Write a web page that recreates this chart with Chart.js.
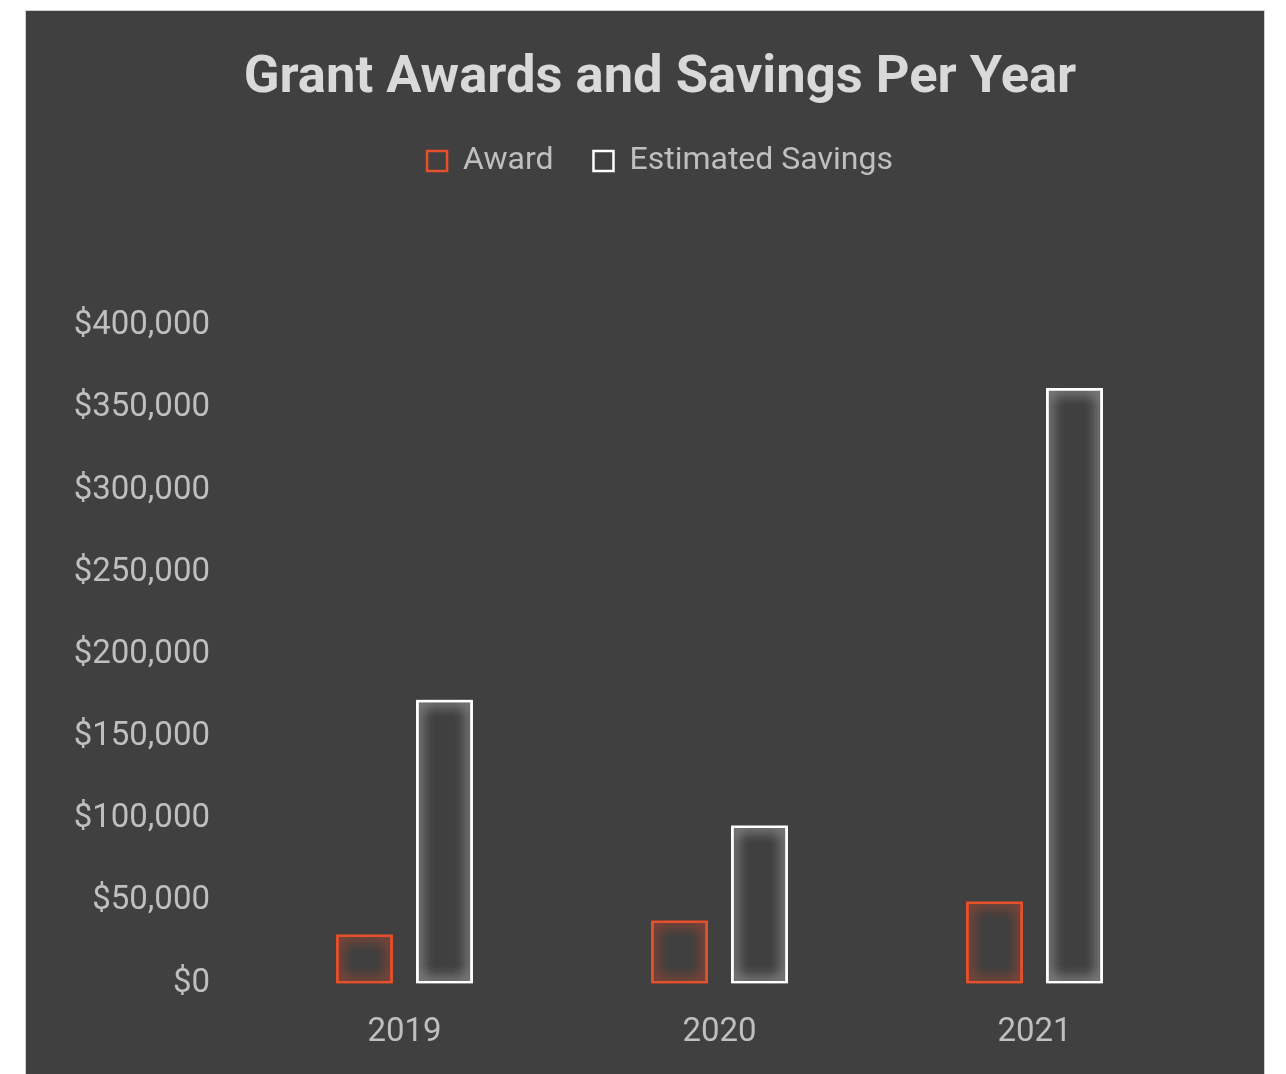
<!DOCTYPE html>
<html>
<head>
<meta charset="utf-8">
<script src="https://cdn.jsdelivr.net/npm/chart.js@4.4.0/dist/chart.umd.min.js"></script>
<style>
  html, body { margin: 0; padding: 0; background: #ffffff; overflow: hidden; }
  #card {
    position: absolute; left: 25px; top: 10px;
    width: 1238px; height: 1100px;
    background: #404040; border: 1px solid #d0d0d0;
  }
  #card canvas { display: block; }
</style>
</head>
<body>
<div id="card"><canvas id="grantChart" width="1238" height="1093"></canvas></div>
<script>
// Chart data
var years = ['2019', '2020', '2021'];
var awardValues = [29800, 38300, 49800];
var savingsValues = [172600, 96000, 362300];

var awardColor = '#e6502b';
var savingsColor = '#ffffff';

// Soft glow around the bar outlines (drawn twice to make it stronger)
var glowPlugin = {
  id: 'barGlow',
  beforeDatasetDraw: function (chart, args) {
    var ctx = chart.ctx;
    ctx.save();
    ctx.shadowColor = args.index === 0 ? 'rgba(230, 80, 43, 0.9)' : 'rgba(255, 255, 255, 0.8)';
    ctx.shadowBlur = 14;
  },
  afterDatasetDraw: function (chart, args) {
    args.meta.controller.draw();
    chart.ctx.restore();
  }
};

// Leave a big gap between the legend and the plot
var legendGapPlugin = {
  id: 'legendGap',
  beforeInit: function (chart) {
    var origFit = chart.legend.fit;
    chart.legend.fit = function () {
      origFit.call(this);
      this.height += 139;
    };
  }
};

function drawChart() {
  var ctx = document.getElementById('grantChart').getContext('2d');
  var chart = new Chart(ctx, {
    type: 'bar',
    data: {
      labels: years,
      datasets: [
        {
          label: 'Award',
          data: awardValues,
          backgroundColor: 'rgba(0, 0, 0, 0)',
          borderColor: awardColor,
          borderWidth: 2.5,
          borderSkipped: false
        },
        {
          label: 'Estimated Savings',
          data: savingsValues,
          backgroundColor: 'rgba(0, 0, 0, 0)',
          borderColor: savingsColor,
          borderWidth: 2.5,
          borderSkipped: false
        }
      ]
    },
    options: {
      responsive: false,
      animation: false,
      categoryPercentage: 0.508,
      barPercentage: 0.71,
      layout: {
        padding: { left: 30, right: 0, top: 0, bottom: 21 }
      },
      plugins: {
        title: {
          display: true,
          text: 'Grant Awards and Savings Per Year',
          color: '#d9d9d9',
          font: { family: 'Roboto', size: 52.5, weight: 'bold' },
          padding: { top: 36, bottom: -5 }
        },
        legend: {
          position: 'top',
          labels: {
            color: '#bfbfbf',
            font: { family: 'Roboto', size: 32 },
            boxWidth: 20,
            boxHeight: 20,
            padding: 40
          }
        },
        tooltip: { enabled: false }
      },
      scales: {
        x: {
          grid: { display: false, drawTicks: false },
          border: { display: false },
          ticks: {
            color: '#bfbfbf',
            font: { family: 'Roboto', size: 33 },
            padding: 30
          }
        },
        y: {
          min: 0,
          max: 400000,
          grid: { display: false, drawTicks: false },
          border: { display: false },
          afterFit: function (axis) {
            axis.width = 191;
          },
          ticks: {
            stepSize: 50000,
            color: '#bfbfbf',
            padding: 37,
            font: { family: 'Roboto', size: 33 },
            callback: function (value) {
              return '$' + value.toLocaleString('en-US');
            }
          }
        },
        // empty right-hand spacer axis
        yRight: {
          position: 'right',
          grid: { display: false, drawTicks: false },
          border: { display: false },
          ticks: { display: false },
          afterFit: function (axis) {
            axis.width = 72;
          }
        }
      }
    },
    plugins: [glowPlugin, legendGapPlugin]
  });
}

Promise.all([
  document.fonts.load('33px Roboto'),
  document.fonts.load('bold 52px Roboto')
]).then(drawChart, drawChart);
</script>
</body>
</html>
